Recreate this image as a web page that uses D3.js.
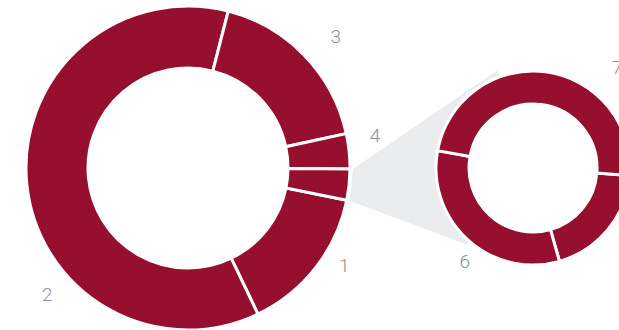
<!DOCTYPE html>
<html>
<head>
<meta charset="utf-8">
<script src="https://cdn.jsdelivr.net/npm/d3@7"></script>
<style>
  html, body { margin: 0; padding: 0; background: #ffffff; overflow: hidden; }
  svg { display: block; }
  .lbl { font-family: Roboto, "Open Sans", sans-serif; font-weight: 300; font-size: 19px; fill: #89909a; }
</style>
</head>
<body>
<svg id="chart" width="619" height="330"></svg>
<script>
// Primary pie: categories 1-4 plus the grouped remainder
const mainCategories = ["1", "2", "3", "4"];
const mainValues = [14.7, 61.1, 17.6, 3.5];

// Secondary pie: breakdown of the grouped remainder
const subCategories = ["5", "6", "7"];
const subValues = [0.6, 1.0, 1.5];

// Label placement (degrees clockwise from 12 o'clock, distance from pie centre);
// null means the slice carries no label
const mainLabelAngles = [121.8, 228.1, 48.3, 80];
const mainLabelRadii = [184, 189, 198, 190];
const subLabelAngles = [null, 216, 40];
const subLabelRadii = [null, 116, 131];

const W = 619, H = 330;
const deg = Math.PI / 180;
const crimson = "#960f2f";
const connectorFill = "#ebecee";

const mainC = { x: 188, y: 168, R: 162, r: 100 };
const subC = { x: 533, y: 168, R: 97, r: 64 };

const svg = d3.select("#chart");

const otherValue = d3.sum(subValues);
const mainData = mainCategories.map((c, i) => ({ cat: c, v: mainValues[i] }))
  .concat([{ cat: "other", v: otherValue }]);
const subData = subCategories.map((c, i) => ({ cat: c, v: subValues[i] }));

const mainStart = 101.5 * deg;
const subStart = 94.5 * deg;

const mainArcs = d3.pie().sort(null).value(d => d.v)
  .startAngle(mainStart).endAngle(mainStart + 2 * Math.PI)(mainData);
const subArcs = d3.pie().sort(null).value(d => d.v)
  .startAngle(subStart).endAngle(subStart + 2 * Math.PI)(subData);

const polar = (c, a, r) => [c.x + r * Math.sin(a), c.y - r * Math.cos(a)];

// Connector band from the grouped slice to the secondary pie
const other = mainArcs[mainArcs.length - 1];
const pTop = polar(mainC, other.startAngle, mainC.R + 3);
const pBot = polar(mainC, other.endAngle, mainC.R + 3);
const eTop = polar(subC, 340 * deg, 104);
const eBot = polar(subC, 221 * deg, 101);
const hTop = polar(subC, 340 * deg, 88);
const band = d3.path();
band.moveTo(...pTop);
band.lineTo(...eTop);
band.lineTo(...hTop);
band.arc(subC.x, subC.y, 88, (340 - 90) * deg, (221 - 90) * deg, true);
band.lineTo(...eBot);
band.lineTo(...pBot);
band.closePath();
svg.append("path").attr("d", band.toString()).attr("fill", connectorFill);

// Donut rings
const mainArc = d3.arc().innerRadius(mainC.r).outerRadius(mainC.R);
const subArc = d3.arc().innerRadius(subC.r).outerRadius(subC.R);

svg.append("g").attr("transform", `translate(${mainC.x},${mainC.y})`)
  .selectAll("path").data(mainArcs).join("path")
  .attr("d", mainArc)
  .attr("fill", crimson)
  .attr("stroke", "#ffffff")
  .attr("stroke-width", 3)
  .attr("stroke-linejoin", "miter");

svg.append("g").attr("transform", `translate(${subC.x},${subC.y})`)
  .selectAll("path").data(subArcs).join("path")
  .attr("d", subArc)
  .attr("fill", crimson)
  .attr("stroke", "#ffffff")
  .attr("stroke-width", 3)
  .attr("stroke-linejoin", "miter");

// Category labels
const labels = svg.append("g");
mainCategories.forEach((c, i) => {
  const [x, y] = polar(mainC, mainLabelAngles[i] * deg, mainLabelRadii[i]);
  labels.append("text").attr("class", "lbl")
    .attr("x", x).attr("y", y).attr("dy", "0.35em")
    .attr("text-anchor", "middle").text(c);
});
subCategories.forEach((c, i) => {
  if (subLabelAngles[i] == null) return;
  const [x, y] = polar(subC, subLabelAngles[i] * deg, subLabelRadii[i]);
  labels.append("text").attr("class", "lbl")
    .attr("x", x).attr("y", y).attr("dy", "0.35em")
    .attr("text-anchor", "middle").text(c);
});
</script>
</body>
</html>
